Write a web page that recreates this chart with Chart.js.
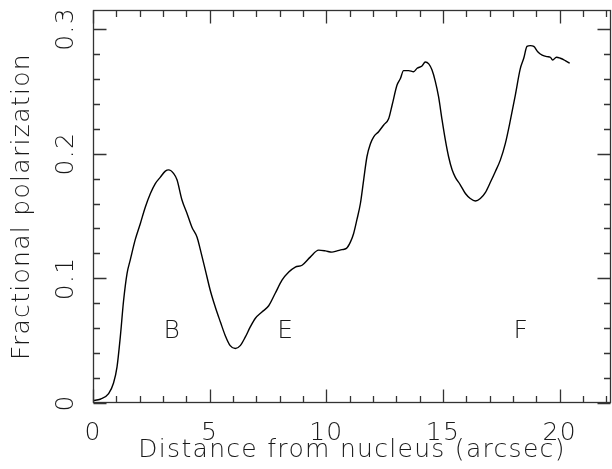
<!DOCTYPE html>
<html><head><meta charset="utf-8">
<script src="https://cdn.jsdelivr.net/npm/chart.js@4"></script>
<style>html,body{margin:0;padding:0;background:#fff}#wrap{width:612px;height:469px}</style>
</head><body><div id="wrap"><canvas id="c" width="612" height="469"></canvas></div>
<script>
const distance = [0,0.31,0.67,0.88,1.03,1.17,1.31,1.46,1.6,1.81,2.03,2.24,2.46,2.67,2.88,3.1,3.24,3.46,3.6,3.81,4.03,4.24,4.46,4.6,4.81,5.03,5.24,5.46,5.67,5.88,6.1,6.31,6.53,6.74,6.96,7.24,7.53,7.81,8.1,8.39,8.67,8.96,9.31,9.67,9.96,10.24,10.46,10.67,10.86,11.03,11.17,11.31,11.46,11.6,11.74,11.89,12.03,12.24,12.46,12.67,12.82,13.03,13.17,13.31,13.53,13.74,13.89,14.1,14.24,14.39,14.53,14.67,14.81,14.96,15.1,15.24,15.39,15.53,15.74,15.96,16.17,16.39,16.6,16.82,17.03,17.24,17.46,17.67,17.89,18.1,18.31,18.46,18.6,18.74,18.89,19.06,19.25,19.46,19.6,19.7,19.86,20.03,20.24,20.43];
const polarization = [0.002,0.003,0.0075,0.016,0.029,0.053,0.082,0.104,0.115,0.131,0.144,0.157,0.168,0.176,0.181,0.186,0.187,0.184,0.179,0.163,0.152,0.141,0.133,0.123,0.107,0.090,0.077,0.065,0.054,0.046,0.0437,0.046,0.053,0.061,0.068,0.073,0.078,0.088,0.0985,0.105,0.109,0.1105,0.117,0.1226,0.122,0.121,0.122,0.123,0.124,0.129,0.136,0.147,0.160,0.179,0.1975,0.208,0.2135,0.2176,0.223,0.228,0.239,0.255,0.260,0.2666,0.2666,0.2657,0.2685,0.2703,0.2735,0.272,0.267,0.258,0.2457,0.227,0.211,0.1975,0.187,0.181,0.175,0.168,0.164,0.162,0.164,0.169,0.177,0.1855,0.195,0.208,0.227,0.247,0.268,0.2765,0.286,0.2866,0.286,0.2818,0.279,0.2778,0.2773,0.2751,0.2773,0.2765,0.2746,0.2725];
const xTickValues = [0,5,10,15,20];
const xTickLabels = ['0','5','10','15','20'];
const yTickValues = [0,0.1,0.2,0.3];
const yTickLabels = ['0','0.1','0.2','0.3'];
const regionLabels = ['B','E','F'];
const regionX = [3.4,8.26,18.36];
const regionY = [0.057,0.057,0.057];

const FONT = {family:'"DejaVu Sans Light", "DejaVu Sans", sans-serif', size:25, weight:200};
const INK = '#1a1a1a';

function noPad(s){ s.paddingTop = 0; s.paddingBottom = 0; s.paddingLeft = 0; s.paddingRight = 0; }

const framePlugin = {
  id:'frame',
  beforeDraw(chart){ chart.ctx.letterSpacing = '1.3px'; },
  afterDatasetsDraw(chart){
    const {ctx, chartArea:a, scales:{x,y}} = chart;
    ctx.save();
    ctx.strokeStyle = '#333';
    ctx.lineWidth = 1.3;
    const L = Math.round(a.left)+0.5, R = Math.round(a.right)-0.5, T = Math.round(a.top)+0.5, B = Math.round(a.bottom)-0.5;
    ctx.strokeRect(L, T, R-L, B-T);
    ctx.beginPath();
    for (let i=0;i<=22;i++){
      const px = Math.round(x.getPixelForValue(i))+0.5;
      const len = (i%5===0)?13:6.5;
      ctx.moveTo(px,B); ctx.lineTo(px,B-len);
      ctx.moveTo(px,T); ctx.lineTo(px,T+len);
    }
    for (let j=0;j<=15;j++){
      const v = j*0.02;
      const py = Math.round(y.getPixelForValue(v))+0.5;
      const len = (j%5===0)?13:6.5;
      ctx.moveTo(L,py); ctx.lineTo(L+len,py);
      ctx.moveTo(R,py); ctx.lineTo(R-len,py);
    }
    ctx.stroke();
    ctx.fillStyle = INK;
    ctx.font = `${FONT.weight} ${FONT.size}px ${FONT.family}`;
    ctx.textAlign = 'center';
    ctx.textBaseline = 'middle';
    regionLabels.forEach((t,i)=>{
      ctx.fillText(t, x.getPixelForValue(regionX[i]), y.getPixelForValue(regionY[i]));
    });
    ctx.restore();
  }
};

new Chart(document.getElementById('c'), {
  type:'line',
  data:{datasets:[{
    data: distance.map((d,i)=>({x:d,y:polarization[i]})),
    borderColor:'#000', borderWidth:1.4, pointRadius:0, fill:false,
    cubicInterpolationMode:'monotone'
  }]},
  options:{
    responsive:false, animation:false, devicePixelRatio:1,
    layout:{padding:{top:10,right:1,left:0,bottom:0}},
    plugins:{legend:{display:false},tooltip:{enabled:false}},
    scales:{
      x:{type:'linear',min:0,max:22.2,
        grid:{display:false,drawTicks:false}, border:{display:false},
        afterBuildTicks(s){ s.ticks = xTickValues.map(v=>({value:v})); },
        afterFit(s){ s.height = 66; noPad(s); },
        ticks:{font:FONT,color:INK,padding:15,maxRotation:0,autoSkip:false,
          callback:(v)=>{const k=xTickValues.indexOf(v);return k>=0?xTickLabels[k]:'';}},
        title:{display:true,text:'Distance from nucleus (arcsec)',font:FONT,color:INK,padding:{top:0,bottom:4}}
      },
      y:{type:'linear',min:0,max:0.3152,
        grid:{display:false,drawTicks:false}, border:{display:false},
        afterBuildTicks(s){ s.ticks = yTickValues.map(v=>({value:v})); },
        afterFit(s){ s.width = 93; noPad(s); },
        ticks:{font:FONT,color:INK,padding:7,minRotation:90,maxRotation:90,crossAlign:'center',autoSkip:false,
          callback:(v)=>{const k=yTickValues.findIndex(t=>Math.abs(t-v)<1e-9);return k>=0?yTickLabels[k]:'';}},
        title:{display:true,text:'Fractional polarization',font:FONT,color:INK,padding:{top:7,bottom:0}}
      }
    }
  },
  plugins:[framePlugin]
});
</script></body></html>
